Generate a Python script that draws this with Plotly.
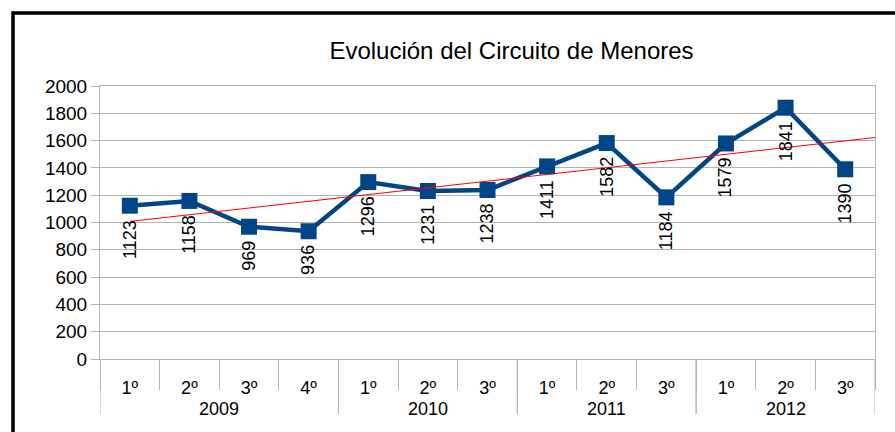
import numpy as np
import plotly.graph_objects as go

years = ['2009', '2009', '2009', '2009', '2010', '2010', '2010',
         '2011', '2011', '2011', '2012', '2012', '2012']
quarters = ['1º', '2º', '3º', '4º', '1º', '2º', '3º',
            '1º', '2º', '3º', '1º', '2º', '3º']
values = [1123, 1158, 969, 936, 1296, 1231, 1238, 1411, 1582, 1184, 1579, 1841, 1390]
y_ticks = list(range(0, 2001, 200))
title_text = 'Evolución del Circuito de Menores'

FONT = 'Liberation Sans, Arial, sans-serif'
GRID = '#b3b3b3'
idx = list(range(len(values)))
slope, intercept = np.polyfit(idx, values, 1)
trend_x = [0, len(values) - 0.5]
trend_y = [intercept + slope * t for t in trend_x]
xr = [-0.5, len(values) - 0.5]

# year groups derived from the year list
groups = []
for i, y in enumerate(years):
    if not groups or groups[-1][0] != y:
        groups.append([y, i, i])
    else:
        groups[-1][2] = i

fig = go.Figure()
fig.add_trace(go.Scatter(
    x=idx, y=values, mode='lines+markers',
    line=dict(color='#004586', width=4.5),
    marker=dict(symbol='square', size=16, color='#004586'),
    showlegend=False, hoverinfo='skip'))
fig.add_trace(go.Scatter(
    x=trend_x, y=trend_y, mode='lines',
    line=dict(color='#ff0000', width=1), showlegend=False, hoverinfo='skip'))

for i, v in enumerate(values):
    fig.add_annotation(x=i, y=v, xref='x', yref='y', text=str(v), showarrow=False,
                       textangle=-90, yanchor='top', xanchor='center', yshift=-12,
                       font=dict(family=FONT, size=18, color='black'))

# year labels and dividers
for name, a, b in groups:
    fig.add_annotation(x=(a + b) / 2, y=-50 / 273, xref='x', yref='paper', text=name,
                       showarrow=False, yanchor='middle', xanchor='center',
                       font=dict(family=FONT, size=18, color='black'))
    for edge in (a - 0.5, b + 0.5):
        fig.add_shape(type='line', xref='x', yref='paper', x0=edge, x1=edge,
                      y0=0, y1=-55 / 273, line=dict(color=GRID, width=1))

fig.add_shape(type='rect', xref='paper', yref='paper',
              x0=(13 - 100) / 775, x1=1.3, y0=-0.6, y1=(359 - 13) / 273,
              line=dict(color='black', width=3.5), fillcolor='rgba(0,0,0,0)')

fig.update_layout(
    width=895, height=432,
    margin=dict(l=100, r=20, t=86, b=73),
    paper_bgcolor='white', plot_bgcolor='white',
    font=dict(family=FONT, size=18, color='black'),
    title=dict(text=title_text, x=511.5 / 895, xref='container', xanchor='center',
               y=1 - 51 / 432, yref='container', yanchor='middle',
               font=dict(family=FONT, size=24, color='black')),
    xaxis=dict(range=xr, autorange=False, showgrid=False, zeroline=False,
               showline=True, linecolor=GRID, mirror=True,
               tickmode='array', tickvals=idx, ticktext=quarters, ticks='',
               ticklabelstandoff=12,
               minor=dict(tick0=-0.5, dtick=1, ticks='outside', ticklen=30,
                          tickcolor=GRID, showgrid=False),
               tickfont=dict(family=FONT, size=18, color='black')),
    yaxis=dict(range=[0, 2000], tickvals=y_ticks, showgrid=True, gridcolor=GRID,
               showline=True, linecolor=GRID, mirror=True, ticks='outside', ticklen=8,
               tickcolor=GRID, zeroline=False,
               tickfont=dict(family=FONT, size=19, color='black')),
)

fig.write_html('out.html', post_script="document.body.style.margin='0';",
               config={'displayModeBar': False})
